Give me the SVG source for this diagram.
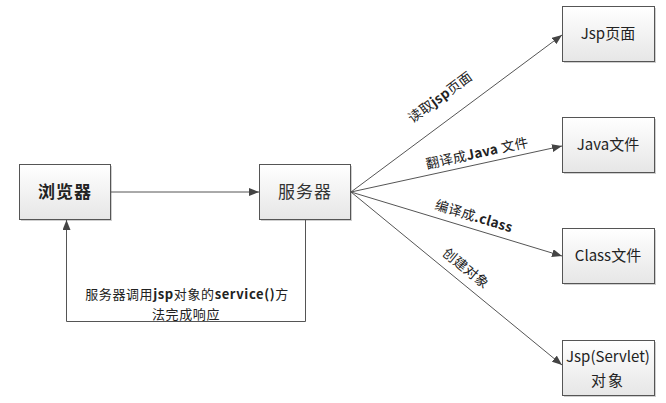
<svg xmlns="http://www.w3.org/2000/svg" width="666" height="403" viewBox="0 0 666 403">
<defs>
<linearGradient id="g" x1="0" y1="0" x2="0" y2="1">
<stop offset="0" stop-color="#ffffff"/>
<stop offset="1" stop-color="#e6e6e6"/>
</linearGradient>
<marker id="arr" viewBox="0 0 10 8" refX="10" refY="4" markerWidth="10" markerHeight="8" markerUnits="userSpaceOnUse" orient="auto">
<path d="M0,0 L10,4 L0,8 Z" fill="#444"/>
</marker>
<style>
.box{fill:url(#g);stroke:#555;stroke-width:1}
.sh{fill:#cfcfcf}
.t{font-family:"Noto Sans CJK SC","Liberation Sans",sans-serif;fill:#222;text-anchor:middle}
.nt{font-size:17px;letter-spacing:1px}
.rt{font-size:15px}
.lb{font-size:13.5px;letter-spacing:0.3px}
.rl{font-size:13px;letter-spacing:0.6px}
.b{font-weight:bold}
.c{fill:none;stroke:#555;stroke-width:1}
</style>
</defs>
<rect width="666" height="403" fill="#fff"/>
<g id="browser">
<rect class="sh" x="21" y="166" width="91" height="55"/>
<rect class="box" x="19.5" y="164.5" width="91" height="55"/>
<text class="t nt b" x="65" y="198">浏览器</text>
</g>
<g id="server">
<rect class="sh" x="261" y="166" width="91" height="55"/>
<rect class="box" x="259.5" y="164.5" width="91" height="55"/>
<text class="t nt" x="305" y="198" style="fill:#333">服务器</text>
</g>
<g id="jsp">
<rect class="sh" x="564" y="8" width="92" height="55"/>
<rect class="box" x="562.5" y="6.5" width="92" height="55"/>
<text class="t rt" x="608" y="39">Jsp页面</text>
</g>
<g id="java">
<rect class="sh" x="564" y="119" width="92" height="55"/>
<rect class="box" x="562.5" y="117.5" width="92" height="55"/>
<text class="t rt" x="608" y="150">Java文件</text>
</g>
<g id="class">
<rect class="sh" x="564" y="230" width="92" height="55"/>
<rect class="box" x="562.5" y="228.5" width="92" height="55"/>
<text class="t rt" x="608" y="261">Class文件</text>
</g>
<g id="servlet">
<rect class="sh" x="564" y="342" width="92" height="55"/>
<rect class="box" x="562.5" y="340.5" width="92" height="55"/>
<text class="t rt" x="608" y="362">Jsp(Servlet)</text>
<text class="t rt" x="608" y="386" letter-spacing="2">对象</text>
</g>
<g id="connectors">
<line class="c" x1="111" y1="192" x2="259" y2="192" marker-end="url(#arr)"/>
<path class="c" d="M305.5,220 V321.5 H66.5 V220" marker-end="url(#arr)"/>
<line class="c" x1="351" y1="192" x2="562" y2="35" marker-end="url(#arr)"/>
<line class="c" x1="351" y1="192" x2="562" y2="146" marker-end="url(#arr)"/>
<line class="c" x1="351" y1="192" x2="562" y2="256" marker-end="url(#arr)"/>
<line class="c" x1="351" y1="192" x2="562" y2="365" marker-end="url(#arr)"/>
<text class="t rl" x="187" y="299">服务器调用<tspan class="b">jsp</tspan>对象的<tspan class="b">service()</tspan>方</text>
<text class="t rl" x="186" y="318.5">法完成响应</text>
<text class="t lb" transform="translate(440,97) rotate(-36.6)" y="5">读取<tspan class="b">jsp</tspan>页面</text>
<text class="t lb" transform="translate(477,153) rotate(-12.3)" y="5">翻译成<tspan class="b">Java</tspan> 文件</text>
<text class="t lb" transform="translate(474,216) rotate(16.9)" y="5">编译成<tspan class="b">.class</tspan></text>
<text class="t lb" transform="translate(466,268) rotate(39.3)" y="5" letter-spacing="1.5">创建对象</text>
</g>
</svg>
